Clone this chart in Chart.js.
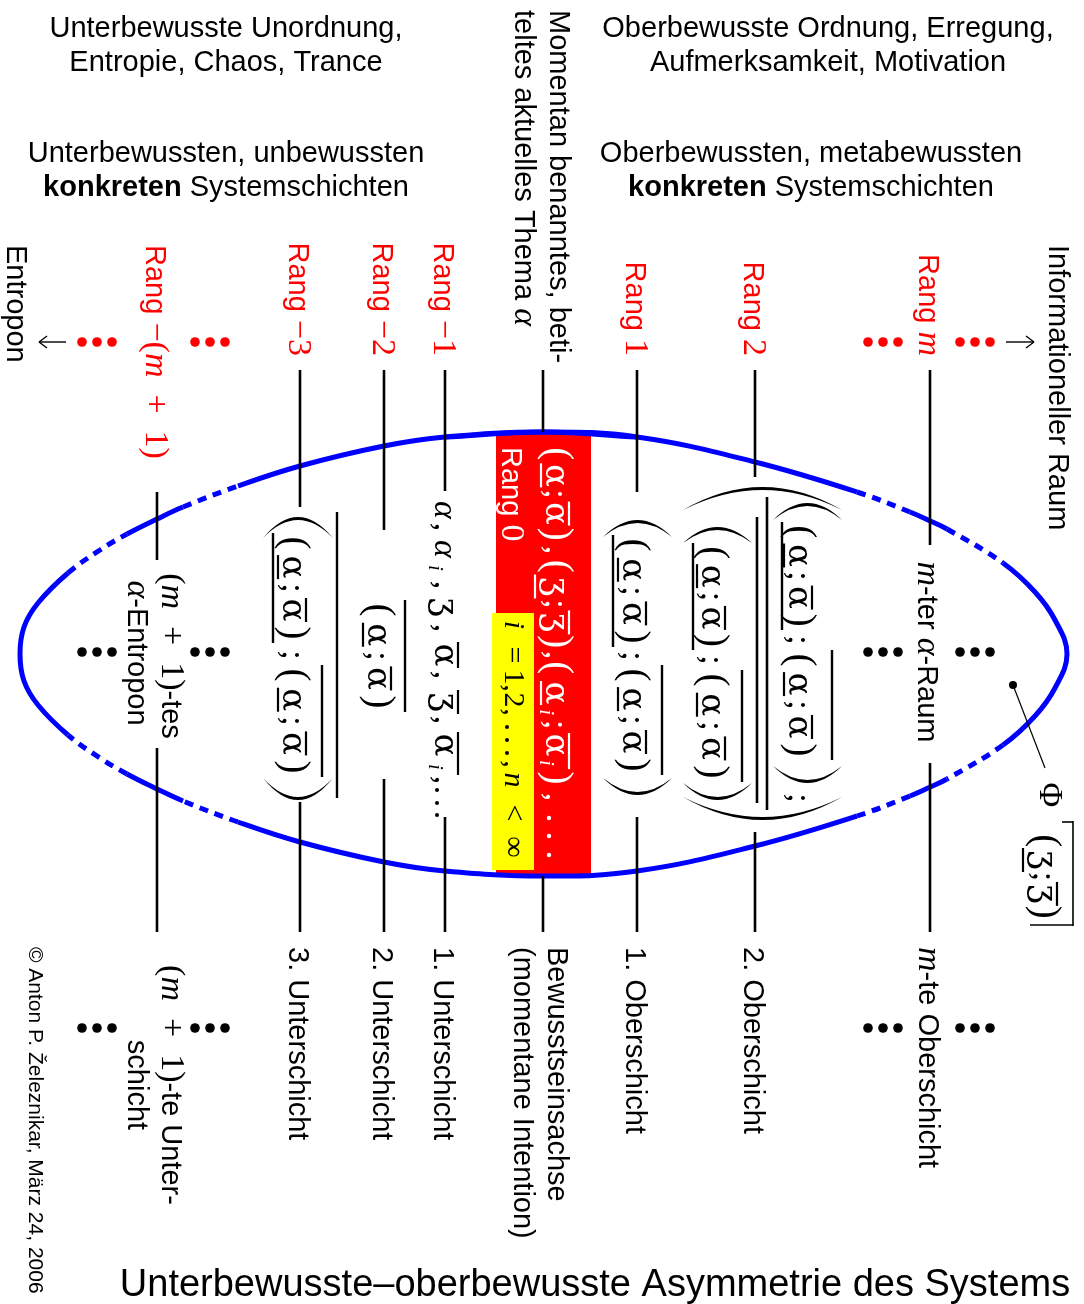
<!DOCTYPE html>
<html lang="de">
<head>
<meta charset="utf-8">
<title>Unterbewusste–oberbewusste Asymmetrie des Systems</title>
<script src="https://cdn.jsdelivr.net/npm/chart.js@4.4.1/dist/chart.umd.min.js"></script>
<style>
  html, body { margin: 0; padding: 0; background: #fff; }
  #wrap { width: 1084px; height: 1304px; }
</style>
</head>
<body>
<div id="wrap"><canvas id="chart"></canvas></div>
<script>
// Schichten, von unterbewusst (links) nach oberbewusst (rechts)
const layerX = [157, 300, 384, 445, 543, 637, 755, 930];
const rankLabels = ['Rang $−(m\u2002+\u20021)$', 'Rang $−3$', 'Rang $−2$', 'Rang $−1$', 'Rang $0$', 'Rang $1$', 'Rang $2$', 'Rang $m$'];
const layerNames = [
  ['$(m\u2002+\u20021)$-te Unter-', 'schicht'],
  ['3. Unterschicht'], ['2. Unterschicht'], ['1. Unterschicht'],
  ['Bewusstseinsachse', '(momentane Intention)'],
  ['1. Oberschicht'], ['2. Oberschicht'], ['$m$-te Oberschicht']
];
// Achsenstücke je Schicht (oben bis Inhalt, Inhalt bis unten)
const axisFrom = [492, 370, 370, 370, 370, 370, 370, 370];
const gapFrom = [560, 507, 530, 491, 432, 492, 477, 545];
const gapTo = [748, 802, 779, 817, 876, 817, 832, 763];
const axisTo = [932, 932, 932, 932, 932, 932, 932, 932];

const outlineX = [445, 543, 637, 755, 857, 910, 928, 947, 1003, 1035, 1055, 1067, 1055, 1035, 1003, 947, 928, 910, 857, 755, 637, 543,
  445, 384, 300, 238, 183, 157, 127, 100, 68, 38, 24, 20, 24, 38, 68, 100, 127, 157, 183, 238, 300, 384, 445, 543, 637];
const outlineY = [437, 432, 437, 462, 492, 512, 520, 529, 563, 592, 620, 654, 688, 716, 745, 779, 788, 796, 816, 846, 871, 876,
  871, 862, 842, 822, 801, 789, 774, 758, 735, 705, 681, 654, 627, 603, 573, 550, 534, 519, 507, 486, 466, 446, 437, 432, 437];

// Rang 0 und Indexbereich (Längsausdehnung)
const rang0Span = [433, 875];
const indexSpan = [613, 870];

const headLeft = ['Unterbewusste Unordnung,', 'Entropie, Chaos, Trance'];
const headRight = ['Oberbewusste Ordnung, Erregung,', 'Aufmerksamkeit, Motivation'];
const subLeft = ['Unterbewussten, unbewussten', '*konkreten* Systemschichten'];
const subRight = ['Oberbewussten, metabewussten', '*konkreten* Systemschichten'];
const topic = ['Momentan benanntes, beti-', 'teltes aktuelles Thema $α$'];
const title = 'Unterbewusste–oberbewusste Asymmetrie des Systems';
const copyright = '© Anton P. Železnikar, März 24, 2006';

const FS = '"Liberation Sans", Arial, sans-serif';
const FM = '"Liberation Serif", "Times New Roman", serif';
const FF = '"DejaVu Serif", serif';
const font = {
  sans: '29px ' + FS, bold: 'bold 29px ' + FS, title: '38px ' + FS, copy: '21px ' + FS,
  m: '34px ' + FM, mi: 'italic 34px ' + FM, par: '39px ' + FM,
  frak: '34px ' + FF, sub: 'italic 21px ' + FM, small: '30px ' + FM, smalli: 'italic 30px ' + FM
};

let sx, sy;
const X = v => sx.getPixelForValue(v);
const Y = v => sy.getPixelForValue(v);

// "$...$" = Formelsatz, "*...*" = fett
function parts(str, base) {
  const out = [];
  str.split('$').forEach((seg, i) => {
    if (!seg) return;
    if (i % 2 === 0) {
      seg.split('*').forEach((s, j) => { if (s) out.push([s, j % 2 ? font.bold : base]); });
      return;
    }
    let buf = '', it = null;
    for (const ch of seg) {
      const isIt = /[a-zα]/.test(ch);
      if (it !== null && isIt !== it) { out.push([buf, it ? font.mi : font.m]); buf = ''; }
      buf += ch; it = isIt;
    }
    if (buf) out.push([buf, it ? font.mi : font.m]);
  });
  return out;
}

function runs(ctx, list, x, y, align, color, rotate) {
  ctx.save();
  ctx.translate(X(x), Y(y));
  if (rotate) ctx.rotate(Math.PI / 2);
  ctx.fillStyle = color;
  ctx.textBaseline = 'alphabetic';
  ctx.textAlign = 'left';
  const w = list.map(([t, f]) => { ctx.font = f; return ctx.measureText(t).width; });
  const total = w.reduce((a, b) => a + b, 0);
  let p = align === 'center' ? -total / 2 : align === 'end' ? -total : 0;
  list.forEach(([t, f], i) => { ctx.font = f; ctx.fillText(t, p, 0); p += w[i]; });
  ctx.restore();
}
// gedrehter Text: bx = Grundlinie (x), y = Ankerpunkt entlang der Zeile
const rt = (ctx, list, bx, y, align, color) => runs(ctx, list, bx, y, align, color || '#000', true);
const glyph = (ctx, ch, f, bx, yc, color) => rt(ctx, [[ch, f]], bx, yc, 'center', color);

function vline(ctx, x, y1, y2, w, color) {
  ctx.save(); ctx.strokeStyle = color || '#000'; ctx.lineWidth = w;
  ctx.beginPath(); ctx.moveTo(X(x), Y(y1)); ctx.lineTo(X(x), Y(y2)); ctx.stroke(); ctx.restore();
}
function seg(ctx, x1, y1, x2, y2, w, color) {
  ctx.save(); ctx.strokeStyle = color || '#000'; ctx.lineWidth = w;
  ctx.beginPath(); ctx.moveTo(X(x1), Y(y1)); ctx.lineTo(X(x2), Y(y2)); ctx.stroke(); ctx.restore();
}
function dot(ctx, x, y, r, color) {
  ctx.save(); ctx.fillStyle = color; ctx.beginPath(); ctx.arc(X(x), Y(y), r, 0, Math.PI * 2); ctx.fill(); ctx.restore();
}
function dots3(ctx, cx, cy, color) { [-15, 0, 15].forEach(d => dot(ctx, cx + d, cy, 4.8, color)); }

// große Klammer als Sichel: Enden bei yEnd, Scheitel bei yMid
function paren(ctx, x1, x2, yEnd, yMid) {
  const xm = (x1 + x2) / 2, s = Math.sign(yEnd - yMid);
  const inner = yMid + s * 3;
  ctx.save(); ctx.fillStyle = '#000';
  ctx.beginPath();
  ctx.moveTo(X(x1), Y(yEnd));
  ctx.quadraticCurveTo(X(xm), Y(2 * yMid - yEnd), X(x2), Y(yEnd));
  ctx.quadraticCurveTo(X(xm), Y(2 * inner - yEnd), X(x1), Y(yEnd));
  ctx.fill(); ctx.restore();
}

// (a;ā) mit Unter- und Überstrich
function pair(ctx, cx, y0, len, sym, sub, color) {
  const bx = cx - 16;
  const fr = sub ? [0.06, 0.26, 0.41, 0.51, 0.67, 0.81, 0.93] : [0.09, 0.31, 0.50, 0.70, 0.91];
  const seq = sub ? ['(', sym, 'i', ';', sym, 'i', ')'] : ['(', sym, ';', sym, ')'];
  seq.forEach((ch, k) => {
    const yc = y0 + fr[k] * len;
    if (ch === sym) glyph(ctx, ch, font.frak, bx, yc, color);
    else if (ch === 'i') glyph(ctx, ch, font.sub, bx - 6, yc, color);
    else glyph(ctx, ch, ch === ';' ? font.m : font.par, bx, yc, color);
  });
  const a1 = y0 + fr[1] * len, a2 = y0 + fr[sub ? 4 : 3] * len;
  const ul = sym === 'ʒ' ? bx - 11 : bx - 5;
  vline(ctx, ul, a1 - 12, a1 + 12, 2.2, color);
  vline(ctx, bx + 23, a2 - 12, a2 + (sub ? 24 : 12), 2.2, color);
}

function arrow(ctx, tail, head, y) {
  const d = Math.sign(tail - head);
  seg(ctx, tail, y, head, y, 1.4);
  seg(ctx, head, y, head + d * 8, y - 6, 1.4);
  seg(ctx, head, y, head + d * 8, y + 6, 1.4);
}

const diagram = {
  id: 'diagram',
  beforeDatasetsDraw(chart) {
    const ctx = chart.ctx;
    sx = chart.scales.x; sy = chart.scales.y;
    ctx.save();
    ctx.fillStyle = '#ff0000';
    ctx.fillRect(X(496), Y(rang0Span[0]), X(591) - X(496), Y(rang0Span[1]) - Y(rang0Span[0]));
    ctx.fillStyle = '#ffff00';
    ctx.fillRect(X(492), Y(indexSpan[0]), X(534) - X(492), Y(indexSpan[1]) - Y(indexSpan[0]));
    ctx.restore();
  },
  afterDatasetsDraw(chart) {
    const ctx = chart.ctx;
    sx = chart.scales.x; sy = chart.scales.y;
    const red = '#ff0000', white = '#fff';

    // Überschriften
    headLeft.forEach((t, i) => runs(ctx, parts(t, font.sans), 226, 37 + 34 * i, 'center', '#000'));
    headRight.forEach((t, i) => runs(ctx, parts(t, font.sans), 828, 37 + 34 * i, 'center', '#000'));
    subLeft.forEach((t, i) => runs(ctx, parts(t, font.sans), 226, 162 + 34 * i, 'center', '#000'));
    subRight.forEach((t, i) => runs(ctx, parts(t, font.sans), 811, 162 + 34 * i, 'center', '#000'));
    runs(ctx, [[title, font.title]], 595, 1296, 'center', '#000');

    topic.forEach((t, i) => rt(ctx, parts(t, font.sans), 550 - 35 * i, 10, 'start'));
    rt(ctx, [['Entropon', font.sans]], 7, 245, 'start');
    rt(ctx, [['Informationeller Raum', font.sans]], 1049, 245, 'start');
    rt(ctx, [[copyright, font.copy]], 29, 947, 'start');

    // Rangbezeichnungen
    rankLabels.forEach((t, i) => {
      if (i === 4) { rt(ctx, parts(t, font.sans), 502, 447, 'start', white); return; }
      rt(ctx, parts(t, font.sans), layerX[i] - 11, i === 0 ? 245 : 356, i === 0 ? 'start' : 'end', red);
    });
    // Schichtnamen
    layerNames.forEach((lines, i) => {
      if (lines.length === 1) { rt(ctx, parts(lines[0], font.sans), layerX[i] - 11, 947, 'start'); return; }
      lines.forEach((t, k) => rt(ctx, parts(t, font.sans), layerX[i] + 5 - 34 * k,
        i === 0 ? 1085 : 947, i === 0 ? 'center' : 'start'));
    });

    // Punkte und Pfeile
    [97, 210, 883, 975].forEach(x => dots3(ctx, x, 342, red));
    [97, 210, 883, 975].forEach(x => { dots3(ctx, x, 652, '#000'); dots3(ctx, x, 1028, '#000'); });
    arrow(ctx, 66, 39, 342);
    arrow(ctx, 1006, 1034, 342);

    // Rang −(m+1) und Rang m
    rt(ctx, parts('$(m\u2002+\u20021)$-tes', font.sans), 162, 656, 'center');
    rt(ctx, parts('$α$-Entropon', font.sans), 128, 653, 'center');
    rt(ctx, parts('$m$-ter $α$-Raum', font.sans), 918, 652, 'center');

    // Rang −3
    paren(ctx, 263, 333, 538, 517);
    pair(ctx, 299, 533, 110, 'α', false);
    vline(ctx, 273, 533, 643, 2.4);
    glyph(ctx, ';', font.m, 283, 655);
    pair(ctx, 299, 665, 112, 'α', false);
    vline(ctx, 322, 665, 777, 2.4);
    paren(ctx, 263, 333, 778, 800);
    vline(ctx, 337, 512, 798, 2.4);

    // Rang −2
    pair(ctx, 384, 600, 112, 'α', false);
    vline(ctx, 405, 600, 712, 2.4);

    // Rang −1
    const b1 = 435;
    [527, 585, 628, 675, 720, 780].forEach(y => glyph(ctx, ',', font.m, b1, y));
    glyph(ctx, 'α', font.mi, b1, 510);
    glyph(ctx, 'α', font.mi, b1, 549);
    glyph(ctx, 'i', font.sub, b1 - 6, 568);
    glyph(ctx, 'ʒ', font.frak, b1, 607);
    glyph(ctx, 'α', font.frak, b1, 655);
    glyph(ctx, 'ʒ', font.frak, b1, 702);
    glyph(ctx, 'α', font.frak, b1, 745);
    glyph(ctx, 'i', font.sub, b1 - 6, 767);
    vline(ctx, 458, 642, 668, 2.2); vline(ctx, 458, 690, 714, 2.2); vline(ctx, 458, 732, 775, 2.2);
    [790, 803, 815].forEach(y => dot(ctx, 437, y, 2, '#000'));

    // Rang 0 (Bewusstseinsachse)
    pair(ctx, 562, 445, 98, 'α', false, white);
    glyph(ctx, ',', font.m, 546, 550, white);
    pair(ctx, 562, 558, 92, 'ʒ', false, white);
    glyph(ctx, ',', font.m, 546, 655, white);
    pair(ctx, 562, 660, 127, 'α', true, white);
    glyph(ctx, ',', font.m, 546, 797, white);
    [818, 836, 855].forEach(y => dot(ctx, 549, y, 2.2, white));
    // i = 1,2,...,n < ∞
    const by = 505;
    [['i', font.smalli, 625], ['=', font.small, 655], ['1', font.small, 677], [',', font.small, 688], ['2', font.small, 700],
     [',', font.small, 712], [',', font.small, 764], ['n', font.smalli, 780], ['<', font.small, 813], ['∞', font.small, 847]]
      .forEach(([c, f, y]) => glyph(ctx, c, f, by, y));
    [727, 740, 753].forEach(y => dot(ctx, 507, y, 2, '#000'));

    // Rang 1
    paren(ctx, 603, 672, 537, 520);
    pair(ctx, 639, 535, 112, 'α', false);
    vline(ctx, 613, 535, 647, 2.4);
    glyph(ctx, ';', font.m, 623, 656);
    pair(ctx, 639, 665, 110, 'α', false);
    vline(ctx, 662, 665, 775, 2.4);
    paren(ctx, 603, 672, 778, 795);

    // Rang 2
    paren(ctx, 683, 842, 510, 487);
    paren(ctx, 683, 842, 797, 820);
    paren(ctx, 773, 842, 520, 503);
    pair(ctx, 805, 522, 108, 'α', false);
    vline(ctx, 782, 522, 630, 2.4);
    glyph(ctx, ';', font.m, 789, 640);
    pair(ctx, 805, 650, 110, 'α', false);
    vline(ctx, 832, 650, 760, 2.4);
    paren(ctx, 773, 842, 766, 783);
    glyph(ctx, ';', font.m, 789, 798);
    paren(ctx, 683, 752, 543, 527);
    pair(ctx, 718, 543, 107, 'α', false);
    vline(ctx, 693, 543, 650, 2.4);
    glyph(ctx, ';', font.m, 702, 660);
    pair(ctx, 718, 670, 112, 'α', false);
    vline(ctx, 742, 670, 782, 2.4);
    paren(ctx, 683, 752, 783, 800);
    vline(ctx, 757, 517, 803, 2.6);
    vline(ctx, 767, 497, 810, 2.6);

    // Φ[(ʒ;ʒ̄)]
    glyph(ctx, 'Φ', font.m, 1040, 795);
    pair(ctx, 1050, 833, 87, 'ʒ', false);
    vline(ctx, 1073, 821, 926, 1.6);
    seg(ctx, 1062, 822, 1073, 822, 1.6);
    seg(ctx, 1030, 925, 1073, 925, 1.6);
    dot(ctx, 1013, 685, 4, '#000');
    seg(ctx, 1013, 685, 1045, 768, 1.2);
  }
};

// Achsen als Liniendatensatz (Lücken mit null)
const axisPoints = [];
layerX.forEach((x, i) => {
  axisPoints.push({ x, y: axisFrom[i] }, { x, y: gapFrom[i] }, { x, y: null },
                  { x, y: gapTo[i] }, { x, y: axisTo[i] }, { x, y: null });
});
const outline = outlineX.map((x, i) => ({ x, y: outlineY[i] }));
const dashedRuns = [[70, 125], [185, 236], [860, 908], [950, 1000]];

new Chart(document.getElementById('chart'), {
  type: 'scatter',
  data: {
    datasets: [
      {
        label: 'Schichtachsen',
        data: axisPoints,
        showLine: true,
        spanGaps: false,
        borderColor: '#000',
        borderWidth: 2.6,
        pointRadius: 0,
        order: 1
      },
      {
        label: 'Systemraum',
        data: outline,
        showLine: true,
        borderColor: '#0000ff',
        borderWidth: 5,
        borderCapStyle: 'butt',
        pointRadius: 0,
        tension: 0.4,
        order: 2,
        segment: {
          borderDash: c => {
            const mid = (outlineX[c.p0DataIndex] + outlineX[c.p1DataIndex]) / 2;
            return dashedRuns.some(([a, b]) => mid > a && mid < b) ? [9, 7] : undefined;
          }
        }
      }
    ]
  },
  options: {
    responsive: true,
    maintainAspectRatio: false,
    animation: false,
    events: [],
    layout: { padding: 0 },
    scales: {
      x: { type: 'linear', min: 0, max: 1084, display: false },
      y: { type: 'linear', min: 0, max: 1304, reverse: true, display: false }
    },
    plugins: { legend: { display: false }, tooltip: { enabled: false } }
  },
  plugins: [diagram]
});
</script>
</body>
</html>
